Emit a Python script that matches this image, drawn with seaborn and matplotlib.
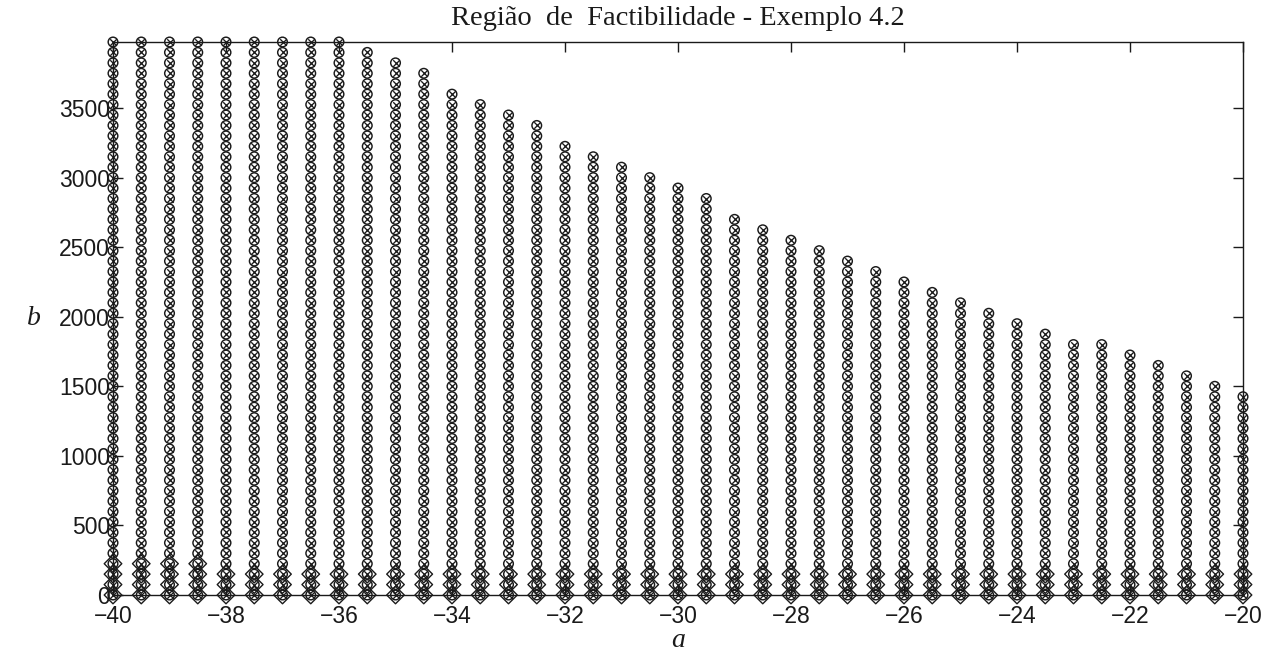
import numpy as np
import pandas as pd
import matplotlib
matplotlib.use("Agg")
import matplotlib.pyplot as plt
import seaborn as sns

# Grid of candidate controller parameters (a, b) and the feasible top of each column
A_VALUES = [-40.0, -39.5, -39.0, -38.5, -38.0, -37.5, -37.0, -36.5, -36.0,
            -35.5, -35.0, -34.5, -34.0, -33.5, -33.0, -32.5, -32.0, -31.5,
            -31.0, -30.5, -30.0, -29.5, -29.0, -28.5, -28.0, -27.5, -27.0,
            -26.5, -26.0, -25.5, -25.0, -24.5, -24.0, -23.5, -23.0, -22.5,
            -22.0, -21.5, -21.0, -20.5, -20.0]
B_TOP = [3975, 3975, 3975, 3975, 3975, 3975, 3975, 3975, 3975,
         3900, 3825, 3750, 3600, 3525, 3450, 3375, 3225, 3150,
         3075, 3000, 2925, 2850, 2700, 2625, 2550, 2475, 2400,
         2325, 2250, 2175, 2100, 2025, 1950, 1875, 1800, 1800,
         1725, 1650, 1575, 1500, 1425]
DIAMOND_TOP = [225, 225, 225, 225] + [150] * 37
B_STEP = 75

X_TICKS = [-40, -38, -36, -34, -32, -30, -28, -26, -24, -22, -20]
Y_TICKS = [0, 500, 1000, 1500, 2000, 2500, 3000, 3500]
TITLE = "Região  de  Factibilidade - Exemplo 4.2"
X_LABEL = "a"
Y_LABEL = "b"

feasible = pd.DataFrame(
    [(a, b) for a, top in zip(A_VALUES, B_TOP) for b in range(0, top + 1, B_STEP)],
    columns=["a", "b"],
)
stable = pd.DataFrame(
    [(a, b) for a, top in zip(A_VALUES, DIAMOND_TOP) for b in range(0, top + 1, B_STEP)],
    columns=["a", "b"],
)

sns.set_style("ticks")
plt.rcParams["font.family"] = ["Liberation Sans", "DejaVu Sans"]
plt.rcParams["axes.unicode_minus"] = True

fig = plt.figure(figsize=(12.68, 6.53), dpi=100)
ax = fig.add_axes([113 / 1268, 1 - 595 / 653, 1130 / 1268, 553 / 653])

ink = "#1a1a1a"
sns.scatterplot(data=stable, x="a", y="b", ax=ax, marker="D", s=80,
                facecolor="none", edgecolor=ink, linewidth=1.0,
                clip_on=False, zorder=3)
sns.scatterplot(data=feasible, x="a", y="b", ax=ax, marker="o", s=48,
                facecolor="none", edgecolor=ink, linewidth=1.05,
                clip_on=False, zorder=4)
sns.scatterplot(data=feasible, x="a", y="b", ax=ax, marker="x", s=22,
                color=ink, linewidth=0.95, clip_on=False, zorder=5)

ax.set_xlim(-40, -20)
ax.set_ylim(0, 3975)
ax.set_xticks(X_TICKS)
ax.set_yticks(Y_TICKS)

for side in ["left", "right", "top", "bottom"]:
    ax.spines[side].set_visible(True)
    ax.spines[side].set_linewidth(1.0)
    ax.spines[side].set_color(ink)

ax.tick_params(axis="both", which="major", direction="in", length=7, width=1.0,
               top=True, right=True, labelsize=16.5, colors=ink)
ax.tick_params(axis="x", pad=7)
ax.tick_params(axis="y", pad=2)

serif = ["Liberation Serif", "DejaVu Serif"]
ax.set_title(TITLE, family=serif, fontsize=20.5, pad=12, color=ink)
ax.set_xlabel(X_LABEL, family=serif, style="italic", fontsize=20, labelpad=0,
              color=ink)
ax.set_ylabel(Y_LABEL, family=serif, style="italic", fontsize=20, rotation=0,
              labelpad=18, va="center", color=ink)

fig.savefig("out.png", dpi=100)
